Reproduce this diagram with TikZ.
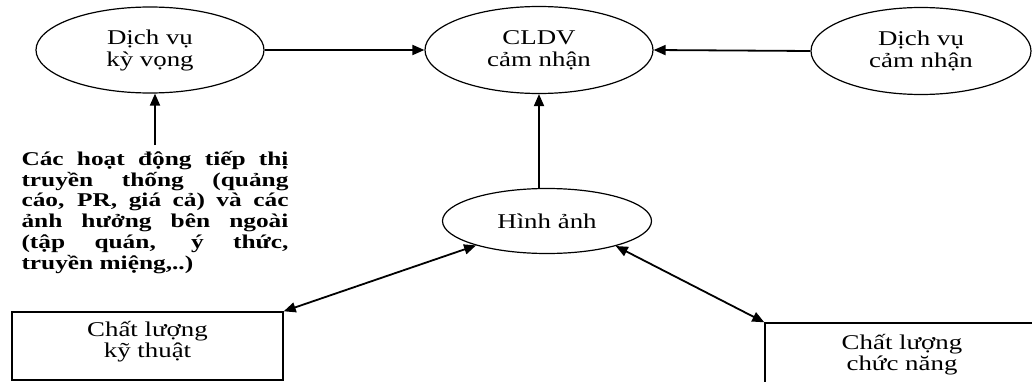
\documentclass[tikz,border=0pt]{standalone}
\usepackage{fontspec}
\setmainfont{Liberation Serif}[FakeStretch=1.28]
\newfontfamily\parafont{Liberation Serif}[FakeStretch=1.3]
\usetikzlibrary{arrows.meta,shapes.geometric,calc}
\begin{document}
\begin{tikzpicture}[x=1pt,y=1pt,
 oval/.style={ellipse,draw,line width=1.2pt,inner sep=0pt,align=center,font=\fontsize{21}{22}\selectfont},
 boxnode/.style={rectangle,draw,line width=1.4pt,inner sep=0pt},
 lbl/.style={align=center,font=\fontsize{21}{21}\selectfont,inner sep=0pt},
 arr/.style={line width=1.8pt,-{Triangle[length=12pt,width=10pt]}},
 darr/.style={line width=1.8pt,{Triangle[length=12pt,width=10pt]}-{Triangle[length=12pt,width=10pt]}}]
\useasboundingbox (0,0) rectangle (1032,381);
\clip (0,0) rectangle (1032,381);
\node[oval,minimum width=228pt,minimum height=86pt] (e1) at (150,331) {Dịch vụ\\kỳ vọng};
\node[oval,minimum width=228pt,minimum height=87pt] (cl) at (539,331) {CLDV\\cảm nhận};
\node[oval,minimum width=220pt,minimum height=87pt] (e3) at (921,330) {Dịch vụ\\cảm nhận};
\node[oval,minimum width=209pt,minimum height=65pt] (h) at (547,160) {Hình ảnh};
\node[anchor=north,inner xsep=0pt,inner ysep=6pt] (para) at (155,236) {\parbox{267pt}{\parafont\bfseries\fontsize{19.5}{20.8}\selectfont
Các hoạt động tiếp thị\linebreak truyền thống (quảng\linebreak cáo, PR, giá cả) và các\linebreak ảnh hưởng bên ngoài\linebreak (tập quán, ý thức,\linebreak truyền miệng,..)}};
\node[boxnode,minimum width=271pt,minimum height=68pt] (b1) at (147.5,35) {};
\node[lbl] (b1t) at (147.5,39) {Chất lượng\\kỹ thuật};
\node[boxnode,minimum width=274pt,minimum height=64pt,align=center,font=\fontsize{21}{21}\selectfont] (b2) at (902,26) {Chất lượng\\chức năng};
\draw[arr] (e1.east) -- (cl.west);
\draw[arr] (e3.west) -- (cl.east);
\draw[arr] (para.north) -- (para.north |- e1.south);
\draw[arr] (cl.south |- h.north) -- (cl.south);
\draw[darr] (h.199) -- (b1.north east);
\draw[darr] (h.340) -- (b2.north west);
\end{tikzpicture}
\end{document}
